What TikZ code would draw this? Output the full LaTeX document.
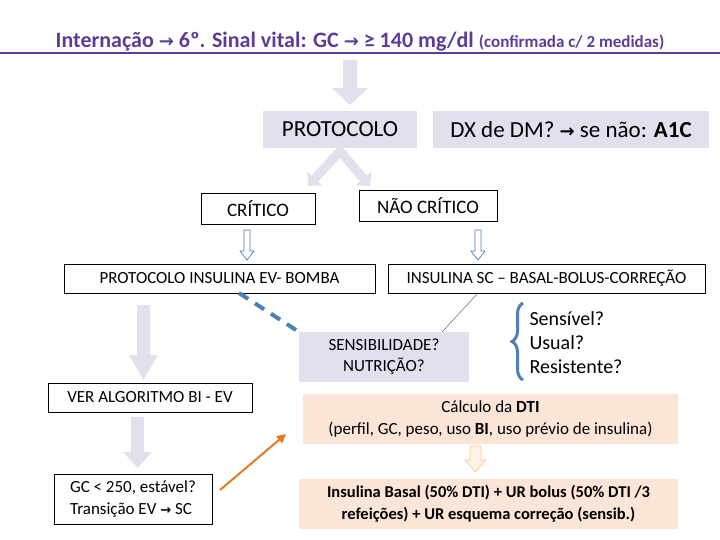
\documentclass[tikz,border=0pt]{standalone}
\usepackage{fontspec}
\setmainfont{Carlito}
\newfontfamily\arw{DejaVu Sans}
\newcommand{\ar}{{\arw\bfseries →}}
\usetikzlibrary{decorations.pathreplacing,arrows.meta}
\definecolor{ttl}{HTML}{5E3C96}
\definecolor{lav}{HTML}{E2E0EC}
\definecolor{peach}{HTML}{FBE5D6}
\definecolor{bl}{HTML}{4F7FB8}
\definecolor{org}{HTML}{E07B28}
\begin{document}
\begin{tikzpicture}[x=1pt,y=-1pt,
  bx/.style={draw=black,line width=0.6pt,fill=white,inner sep=0},
  gbox/.style={fill=lav,inner sep=0},
  pbox/.style={fill=peach,inner sep=0},
  hol/.style={draw=bl,fill=white,line width=0.7pt}]
\useasboundingbox (0,0) rectangle (720,540);
\node[text=ttl,font=\bfseries\fontsize{22}{26}\selectfont,anchor=base] (title) at (360,48) {Internação {\fontsize{18}{20}\selectfont\ar} 6º. Sinal vital: GC {\fontsize{18}{20}\selectfont\ar} ≥ 140 mg/dl {\fontsize{17}{20}\selectfont(confirmada c/ 2 medidas)}};
\draw[ttl,line width=2pt] (0,53) -- (720,53);
\fill[lav] (343,60) -- (357,60) -- (357,88) -- (368,88) -- (350,105) -- (332,88) -- (343,88) -- cycle;
\node[gbox,minimum width=154,minimum height=37,font=\fontsize{23}{26}\selectfont] (prot) at (340,129.5) {PROTOCOLO};
\node[gbox,minimum width=276,minimum height=37,font=\fontsize{23}{26}\selectfont] (dx) at (571,129.5) {DX de DM? {\fontsize{18}{20}\selectfont\ar} se não: \textbf{A1C}};
\draw[lav,line width=9pt,-{Triangle[width=20pt,length=10pt]}] (341,150) -- (308,186);
\draw[lav,line width=9pt,-{Triangle[width=20pt,length=10pt]}] (339,150) -- (370,186);
\node[bx,minimum width=114,minimum height=31,font=\fontsize{19}{22}\selectfont] (crit) at (258,208.5) {CRÍTICO};
\node[bx,minimum width=138,minimum height=31,font=\fontsize{19}{22}\selectfont] (ncrit) at (428,205.5) {NÃO CRÍTICO};
\foreach \x in {247,478}{
 \draw[hol] (\x-3,230) -- (\x+3,230) -- (\x+3,251) -- (\x+7,251) -- (\x,260) -- (\x-7,251) -- (\x-3,251) -- cycle;}
\node[bx,minimum width=311,minimum height=29,font=\fontsize{17}{20}\selectfont] (ev) at (219.5,278.5) {PROTOCOLO INSULINA EV- BOMBA};
\node[bx,minimum width=317,minimum height=29,font=\fontsize{17}{20}\selectfont] (sc) at (546.5,278.5) {INSULINA SC – BASAL-BOLUS-CORREÇÃO};
\node[gbox,minimum width=170,minimum height=50,align=center,font=\fontsize{17}{21}\selectfont] (sens) at (384,357) {SENSIBILIDADE?\\NUTRIÇÃO?};
\draw[bl,line width=4pt,dash pattern=on 11pt off 8pt] (239,293) -- (sens.north west);
\draw[black!70,line width=0.4pt] (478,293) -- (442,332);
\draw[bl,line width=3pt,decorate,decoration={brace,amplitude=11pt,aspect=0.5}] (523,380) -- (523,303);
\node[anchor=north west,align=left,font=\fontsize{20}{24}\selectfont] (opts) at (526,308) {Sensível?\\Usual?\\Resistente?};
\fill[lav] (137,305) -- (150,305) -- (150,355) -- (158,355) -- (143.5,380) -- (129,355) -- (137,355) -- cycle;
\node[bx,minimum width=204,minimum height=29,font=\fontsize{17}{20}\selectfont] (alg) at (150,397.5) {VER ALGORITMO BI - EV};
\fill[lav] (131,417) -- (144,417) -- (144,452) -- (152,452) -- (137.5,468) -- (123,452) -- (131,452) -- cycle;
\node[bx,minimum width=158,minimum height=50,align=left,font=\fontsize{17}{22}\selectfont] (gc) at (133,499) {GC < 250, estável?\\Transição EV {\fontsize{13}{15}\selectfont\ar} SC};
\node[pbox,minimum width=375,minimum height=50,align=center,font=\fontsize{17}{22}\selectfont] (calc) at (490.5,419) {Cálculo da \textbf{DTI}\\(perfil, GC, peso, uso \textbf{BI}, uso prévio de insulina)};
\coordinate (oe) at (286,434);
\draw[org,line width=2pt,-{Triangle[width=9pt,length=9pt]}] (220,490) -- (oe);
\draw[draw=orange!40,fill=peach!80!orange!30,line width=0.7pt] (470,446) -- (481,446) -- (481,460) -- (486,460) -- (475.5,472) -- (465,460) -- (470,460) -- cycle;
\node[pbox,minimum width=379,minimum height=50,align=center,font=\bfseries\fontsize{16.5}{22}\selectfont] (ins) at (488.5,504) {Insulina Basal (50\% DTI) + UR bolus (50\% DTI /3\\refeições) + UR esquema correção (sensib.)};
\end{tikzpicture}
\end{document}
